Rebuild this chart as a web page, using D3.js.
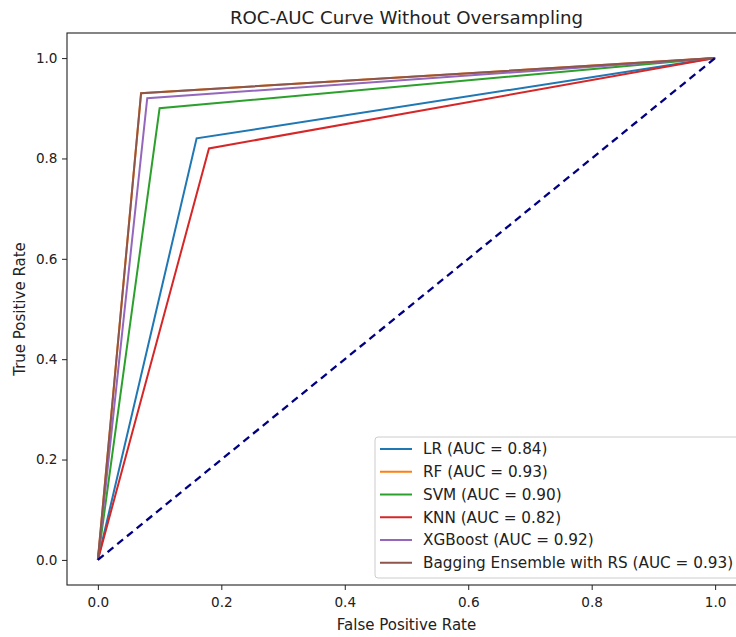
<!DOCTYPE html>
<html><head><meta charset="utf-8">
<script src="https://cdn.jsdelivr.net/npm/d3@7"></script>
<style>body{margin:0;background:#fff}svg{display:block}text{font-family:"DejaVu Sans",sans-serif;fill:#222}</style>
</head><body><svg id="c" width="736" height="637"></svg>
<script>
const models = ["LR","RF","SVM","KNN","XGBoost","Bagging Ensemble with RS"];
const aucs = [0.84,0.93,0.90,0.82,0.92,0.93];
const fprMid = [0.16,0.07,0.10,0.18,0.08,0.07];
const tprMid = [0.84,0.93,0.90,0.82,0.92,0.93];
const colors = ["#1f77b4","#ff7f0e","#2ca02c","#d62728","#9467bd","#8c564b"];
const ticks = [0,0.2,0.4,0.6,0.8,1.0];

const svg = d3.select("#c");
const L=67, R=746, T=33, B=585;
const x = d3.scaleLinear().domain([-0.05,1.05]).range([L,R]);
const y = d3.scaleLinear().domain([-0.05,1.05]).range([B,T]);
const fsTick = 13.6, fsLab = 15, fsLeg = 15.25, fsTitle = 18.2;

const g = svg.append("g");
svg.append("clipPath").attr("id","cp").append("rect").attr("x",L).attr("y",T).attr("width",R-L).attr("height",B-T);
const plot = g.append("g").attr("clip-path","url(#cp)");
const line = d3.line().x(d=>x(d[0])).y(d=>y(d[1]));
models.forEach((m,i)=>{
  plot.append("path").datum([[0,0],[fprMid[i],tprMid[i]],[1,1]])
    .attr("d",line).attr("fill","none").attr("stroke",colors[i]).attr("stroke-width",2);
});
plot.append("path").datum([[0,0],[1,1]]).attr("d",line).attr("fill","none")
  .attr("stroke","navy").attr("stroke-width",2.3).attr("stroke-dasharray","7.5,5");

// axes
const xa = g.append("g").attr("transform",`translate(0,${B})`)
  .call(d3.axisBottom(x).tickValues(ticks).tickFormat(d3.format(".1f")).tickSize(5).tickPadding(7));
const ya = g.append("g").attr("transform",`translate(${L},0)`)
  .call(d3.axisLeft(y).tickValues(ticks).tickFormat(d3.format(".1f")).tickSize(5).tickPadding(4.5));
[xa,ya].forEach(a=>{a.select(".domain").remove();a.selectAll("text").attr("font-size",fsTick).attr("font-family","DejaVu Sans").attr("fill","#222");a.selectAll("line").attr("stroke","#222");});
g.append("rect").attr("x",L).attr("y",T).attr("width",R-L).attr("height",B-T).attr("fill","none").attr("stroke","#222").attr("stroke-width",1.1);

svg.append("text").attr("x",(L+R)/2).attr("y",24).attr("text-anchor","middle").attr("font-size",fsTitle).text("ROC-AUC Curve Without Oversampling");
svg.append("text").attr("x",(L+R)/2).attr("y",630).attr("text-anchor","middle").attr("font-size",fsLab).text("False Positive Rate");
svg.append("text").attr("transform",`translate(25,${(T+B)/2}) rotate(-90)`).attr("text-anchor","middle").attr("font-size",fsLab).text("True Positive Rate");

// legend
const lx=375, ly=437, lw=366, lh=141;
const leg = svg.append("g");
leg.append("rect").attr("x",lx).attr("y",ly).attr("width",lw).attr("height",lh).attr("rx",3)
  .attr("fill","#fff").attr("fill-opacity",0.8).attr("stroke","#ccc");
models.forEach((m,i)=>{
  const yy = ly+12+i*22.75;
  leg.append("line").attr("x1",380).attr("x2",412).attr("y1",yy).attr("y2",yy).attr("stroke",colors[i]).attr("stroke-width",2);
  leg.append("text").attr("x",423).attr("y",yy).attr("dy","0.35em").attr("font-size",fsLeg).text(`${m} (AUC = ${aucs[i].toFixed(2)})`);
});
</script></body></html>
